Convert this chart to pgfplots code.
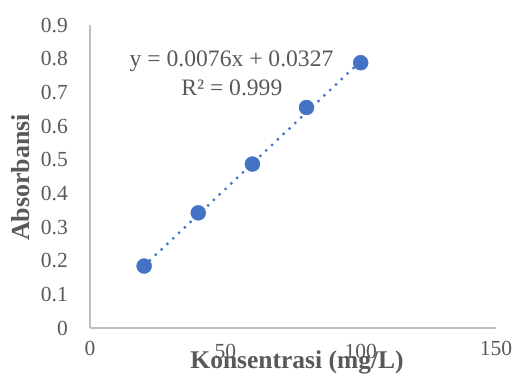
\documentclass[border=0pt]{standalone}
\usepackage{pgfplots}
\pgfplotsset{compat=1.18}
\usepackage{fontspec}
\setmainfont{Liberation Serif}
\definecolor{xlblue}{HTML}{4472C4}
\definecolor{xltext}{HTML}{595959}
\definecolor{xlaxis}{HTML}{BFBFBF}
\begin{document}
\begin{tikzpicture}
\path[use as bounding box] (-90pt,-52pt) rectangle (426pt,328pt);
\begin{axis}[
  scale only axis,
  width=406pt, height=303pt,
  xmin=0, xmax=150, ymin=0, ymax=0.9,
  axis x line=bottom, axis y line=left,
  axis line style={draw=xlaxis, line width=1.2pt, -},
  xtick={0,150},
  extra x ticks={50,100},
  extra x tick style={xticklabel style={yshift=-2.5pt}},
  ytick={0,0.1,...,0.9},
  major tick length=0pt,
  /pgf/number format/assume math mode=true,
  /pgf/number format/fixed,
  /pgf/number format/precision=1,
  tick label style={font=\fontsize{21.5}{24}\selectfont, text=xltext},
  yticklabel style={anchor=east, inner sep=0pt, xshift=-22pt},
  xticklabel style={anchor=north, inner sep=0pt, yshift=-13pt},
  xlabel={Konsentrasi (mg/L)},
  xlabel style={at={(axis description cs:0.51,0)}, anchor=base, yshift=-40pt, inner sep=0pt, font=\fontsize{25.5}{28}\selectfont\bfseries, text=xltext},
  ylabel={Absorbansi},
  ylabel style={at={(axis description cs:-0.172,0.497)}, anchor=center, inner sep=0pt, font=\fontsize{26}{28}\selectfont\bfseries, text=xltext},
  clip=false,
]
\addplot[xlblue, line width=3.2pt, line cap=round, dash pattern=on 0pt off 8pt, forget plot] coordinates {(20,0.1847) (100,0.7927)};
\addplot[only marks, mark=*, mark size=7.5pt, color=xlblue, mark options={draw=xlblue, fill=xlblue}] coordinates {
  (20,0.184) (40,0.342) (60,0.487) (80,0.655) (100,0.788)
};
\node[anchor=base, inner sep=0pt, text=xltext, font=\fontsize{23.6}{26}\selectfont] at (axis cs:52.3,0.777) {y = 0.0076x + 0.0327};
\node[anchor=base, inner sep=0pt, text=xltext, font=\fontsize{23.6}{26}\selectfont] at (axis cs:52.4,0.692) {R² = 0.999};
\end{axis}
\end{tikzpicture}
\end{document}
